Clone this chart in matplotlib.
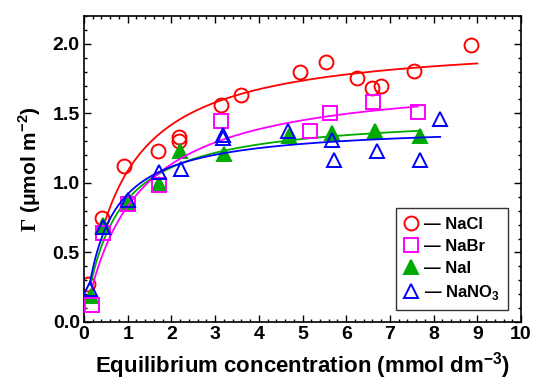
import numpy as np
import matplotlib
matplotlib.use("Agg")
import matplotlib.pyplot as plt

nacl_x = [0.10, 0.41, 0.92, 1.69, 2.17, 2.17, 3.13, 3.60, 4.95, 5.54, 6.24, 6.58, 6.79, 7.56, 8.85]
nacl_y = [0.27, 0.75, 1.125, 1.23, 1.33, 1.30, 1.56, 1.63, 1.80, 1.87, 1.755, 1.685, 1.70, 1.806, 1.99]

nabr_x = [0.18, 0.43, 1.00, 1.71, 3.14, 5.17, 5.64, 6.61, 7.64]
nabr_y = [0.12, 0.64, 0.85, 0.986, 1.448, 1.376, 1.50, 1.58, 1.51]

nai_x = [0.15, 0.44, 1.00, 1.72, 2.20, 3.20, 4.70, 5.68, 6.65, 7.68]
nai_y = [0.19, 0.70, 0.85, 0.99, 1.23, 1.21, 1.34, 1.357, 1.374, 1.338]

nano3_x = [0.14, 0.43, 1.00, 1.72, 2.23, 3.17, 3.18, 4.67, 5.68, 5.71, 6.70, 7.70, 8.15]
nano3_y = [0.24, 0.68, 0.878, 1.08, 1.10, 1.345, 1.325, 1.37, 1.31, 1.165, 1.228, 1.163, 1.458]

# Langmuir fit parameters: Gamma_max, K, and the x span of each fitted line
fit_gmax = [2.04, 1.78, 1.50, 1.42]
fit_k = [1.14, 0.88, 1.43, 1.84]
fit_xmin = [0.41, 0.18, 0.15, 0.14]
fit_xmax = [9.0, 7.64, 7.68, 8.15]

labels = ["NaCl", "NaBr", "NaI", r"NaNO$_\mathbf{3}$"]

plt.rcParams["font.family"] = ["Liberation Sans", "DejaVu Sans"]
plt.rcParams["font.weight"] = "bold"
plt.rcParams["mathtext.fontset"] = "custom"
plt.rcParams["mathtext.rm"] = "Liberation Serif:bold"
plt.rcParams["mathtext.bf"] = "Liberation Sans:bold"

fig = plt.figure(figsize=(5.33, 3.81), dpi=100)
ax = fig.add_axes([0.1576, 0.1549, 0.8199, 0.8031])

series = [
    (nacl_x, nacl_y, dict(marker="o", mfc="none", mec="#ff0000", ms=10), "#ff0000"),
    (nabr_x, nabr_y, dict(marker="s", mfc="none", mec="#ff00ff", ms=9.5), "#ff00ff"),
    (nai_x, nai_y, dict(marker="^", mfc="#00aa00", mec="#00aa00", ms=9.5), "#00aa00"),
    (nano3_x, nano3_y, dict(marker="^", mfc="none", mec="#0000ff", ms=9.5), "#0000ff"),
]
zorders = [2, 3, 2.5, 4]

handles = []
for i, (x, y, mk, col) in enumerate(series):
    xf = np.linspace(fit_xmin[i], fit_xmax[i], 200)
    yf = fit_gmax[i] * fit_k[i] * xf / (1 + fit_k[i] * xf)
    ax.plot(xf, yf, color=col, lw=1.3, zorder=zorders[i])
    h, = ax.plot(x, y, ls="none", mew=1.4, zorder=zorders[i] + 0.1, **mk)
    handles.append(h)

ax.set_xlim(0, 10)
ax.set_ylim(0, 2.2)
ax.set_xticks(np.arange(0, 11, 1))
ax.set_yticks([0.0, 0.5, 1.0, 1.5, 2.0])
ax.set_yticklabels(["0.0", "0.5", "1.0", "1.5", "2.0"])
ax.set_xticks(np.arange(0, 10.01, 0.2), minor=True)
ax.set_yticks(np.arange(0, 2.201, 0.1), minor=True)
ax.tick_params(which="both", direction="in", top=True, right=True, width=1.0,
               labelsize=14, pad=3)
ax.tick_params(which="major", length=5)
ax.tick_params(which="minor", length=2.5)
for s in ax.spines.values():
    s.set_linewidth(1.2)

ax.set_xlabel(r"Equilibrium concentration (mmol dm$^{\mathbf{-3}}$)", fontsize=16,
              fontweight="bold", labelpad=5)
ax.set_ylabel(r"$\Gamma$ ($\mathbf{\mu}$mol m$^{\mathbf{-2}}$)", fontsize=15,
              fontweight="bold", labelpad=7)

leg = ax.legend(handles, ["\u2014 " + l for l in labels], loc="lower right",
                bbox_to_anchor=(0.97, 0.039), borderaxespad=0, fontsize=12,
                frameon=True, fancybox=False, edgecolor="black", handlelength=0.8,
                handletextpad=0.35, borderpad=0.5, labelspacing=0.42)
leg.get_frame().set_linewidth(1.0)

fig.savefig("out.png", dpi=100)
